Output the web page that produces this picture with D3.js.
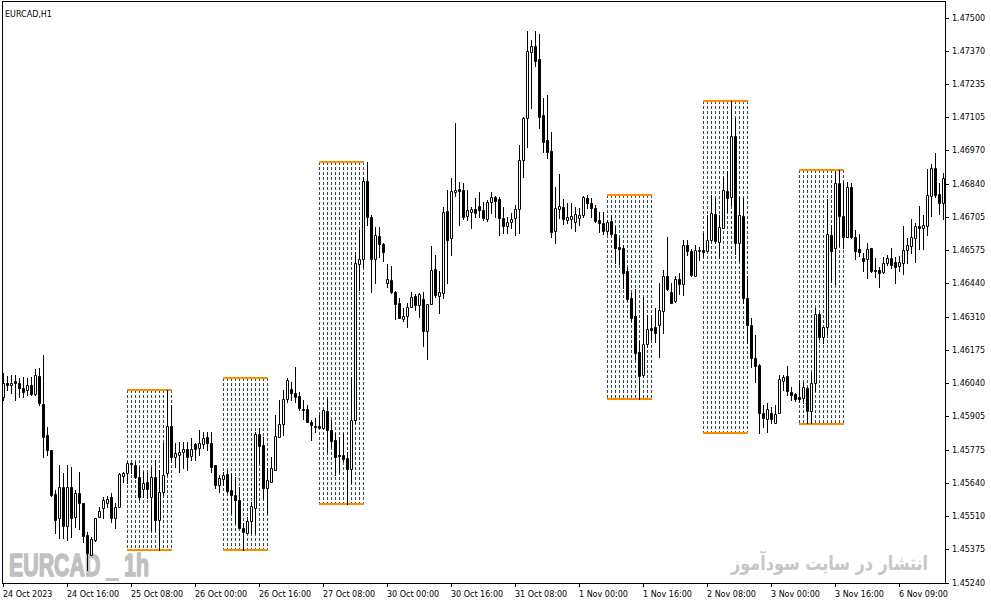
<!DOCTYPE html>
<html>
<head>
<meta charset="utf-8">
<script src="https://cdn.jsdelivr.net/npm/d3@7"></script>
<style>
html,body{margin:0;padding:0;background:#fff;}
svg{display:block;}
</style>
</head>
<body>
<script>
// ---------------- DATA ----------------
const symbolTitle = "EURCAD,H1";
const watermarkText = "EURCAD _ 1h";
const siteText = "انتشار در سایت سودآموز";

const yTickLabels = ["1.47500","1.47370","1.47235","1.47105","1.46970","1.46840","1.46705","1.46575","1.46440",
  "1.46310","1.46175","1.46040","1.45905","1.45775","1.45640","1.45510","1.45375","1.45240"];

const timeTickBars = [0,16,32,48,64,80,96,112,128,144,160,176,192,208,224];
const timeTickLabels = ["24 Oct 2023","24 Oct 16:00","25 Oct 08:00","26 Oct 00:00","26 Oct 16:00","27 Oct 08:00",
  "30 Oct 00:00","30 Oct 16:00","31 Oct 08:00","1 Nov 00:00","1 Nov 16:00","2 Nov 08:00","3 Nov 00:00","3 Nov 16:00","6 Nov 09:00"];

const opens = [1.45983,1.46039,1.46029,1.46047,1.46039,1.46019,1.46010,1.46030,1.45993,1.46066,
1.45954,1.45830,1.45770,1.45593,1.45497,1.45623,1.45467,1.45623,1.45503,1.45597,
1.45557,1.45430,1.45350,1.45410,1.45503,1.45539,1.45557,1.45583,1.45497,1.45543,
1.45666,1.45677,1.45719,1.45710,1.45663,1.45615,1.45643,1.45583,1.45663,1.45490,
1.45603,1.45679,1.45866,1.45743,1.45750,1.45763,1.45774,1.45747,1.45794,1.45778,
1.45794,1.45822,1.45799,1.45710,1.45630,1.45654,1.45674,1.45610,1.45590,1.45570,
1.45459,1.45439,1.45486,1.45539,1.45834,1.45790,1.45618,1.45643,1.45690,1.45823,
1.45874,1.45974,1.46014,1.45998,1.45986,1.45934,1.45934,1.45883,1.45866,1.45866,
1.45859,1.45926,1.45850,1.45810,1.45750,1.45750,1.45738,1.45693,1.45890,1.46514,
1.46534,1.46846,1.46703,1.46534,1.46626,1.46593,1.46439,1.46450,1.46403,1.46357,
1.46294,1.46307,1.46341,1.46386,1.46350,1.46373,1.46247,1.46353,1.46494,1.46387,
1.46397,1.46726,1.46617,1.46804,1.46813,1.46810,1.46706,1.46723,1.46734,1.46746,
1.46730,1.46693,1.46763,1.46781,1.46773,1.46699,1.46666,1.46683,1.46697,1.46733,
1.46930,1.47097,1.47361,1.47386,1.47333,1.47110,1.47010,1.46966,1.46647,1.46734,
1.46741,1.46690,1.46694,1.46683,1.46699,1.46710,1.46779,1.46757,1.46739,1.46690,
1.46677,1.46647,1.46686,1.46634,1.46583,1.46579,1.46486,1.46377,1.46306,1.46163,
1.46070,1.46193,1.46259,1.46263,1.46270,1.46327,1.46466,1.46403,1.46367,1.46454,
1.46434,1.46590,1.46566,1.46467,1.46566,1.46570,1.46567,1.46610,1.46714,1.46603,
1.46659,1.46806,1.46781,1.47026,1.46597,1.46706,1.46377,1.46270,1.46137,1.46110,
1.45919,1.45893,1.45919,1.45879,1.45917,1.46047,1.46066,1.46003,1.45993,1.45983,
1.45977,1.46017,1.45927,1.46037,1.46314,1.46221,1.46263,1.46630,1.46577,1.46837,
1.46706,1.46623,1.46821,1.46621,1.46573,1.46539,1.46533,1.46577,1.46490,1.46490,
1.46481,1.46517,1.46537,1.46521,1.46507,1.46519,1.46570,1.46586,1.46617,1.46666,
1.46657,1.46666,1.46786,1.46897,1.46794,1.46759];

const highs = [1.46077,1.46066,1.46070,1.46070,1.46057,1.46061,1.46057,1.46063,1.46093,1.46097,
1.46150,1.45861,1.45770,1.45610,1.45710,1.45677,1.45710,1.45703,1.45610,1.45683,
1.45557,1.45443,1.45423,1.45497,1.45543,1.45583,1.45586,1.45597,1.45557,1.45679,
1.45683,1.45723,1.45719,1.45723,1.45703,1.45683,1.45677,1.45703,1.45730,1.45690,
1.45798,1.46010,1.45950,1.45798,1.45803,1.45803,1.45803,1.45818,1.45798,1.45850,
1.45843,1.45843,1.45843,1.45710,1.45670,1.45683,1.45690,1.45678,1.45663,1.45623,
1.45478,1.45503,1.45563,1.45843,1.45858,1.45823,1.45698,1.45743,1.45910,1.45970,
1.46010,1.46058,1.46043,1.46103,1.46003,1.45970,1.45950,1.45890,1.45898,1.45910,
1.45930,1.45983,1.45890,1.45838,1.45823,1.45839,1.45763,1.46063,1.46563,1.46650,
1.46863,1.46923,1.46710,1.46663,1.46663,1.46598,1.46514,1.46506,1.46407,1.46377,
1.46337,1.46357,1.46401,1.46393,1.46397,1.46403,1.46353,1.46586,1.46550,1.46487,
1.46743,1.46810,1.46857,1.47077,1.46843,1.46837,1.46810,1.46741,1.46777,1.46801,
1.46763,1.46770,1.46803,1.46786,1.46783,1.46743,1.46703,1.46717,1.46750,1.46990,
1.47103,1.47447,1.47410,1.47447,1.47434,1.47177,1.47190,1.47043,1.46823,1.46874,
1.46773,1.46759,1.46757,1.46743,1.46737,1.46786,1.46790,1.46777,1.46750,1.46723,
1.46723,1.46690,1.46710,1.46666,1.46617,1.46590,1.46503,1.46397,1.46413,1.46207,
1.46381,1.46310,1.46310,1.46337,1.46437,1.46490,1.46623,1.46437,1.46466,1.46479,
1.46610,1.46610,1.46573,1.46590,1.46583,1.46637,1.46710,1.46790,1.46777,1.46710,
1.46861,1.46886,1.47167,1.47097,1.46783,1.46777,1.46466,1.46297,1.46230,1.46114,
1.45950,1.45957,1.45943,1.45950,1.46070,1.46070,1.46106,1.46023,1.45997,1.46050,
1.46043,1.46021,1.46077,1.46337,1.46319,1.46263,1.46773,1.46670,1.46887,1.46890,
1.46843,1.46843,1.46839,1.46650,1.46634,1.46557,1.46597,1.46577,1.46537,1.46503,
1.46543,1.46550,1.46577,1.46543,1.46546,1.46666,1.46617,1.46693,1.46679,1.46746,
1.46710,1.46893,1.46914,1.46959,1.46839,1.46877];

const lows = [1.45970,1.46010,1.45997,1.45970,1.45981,1.45983,1.45990,1.45990,1.45990,1.45950,
1.45743,1.45750,1.45586,1.45439,1.45417,1.45417,1.45410,1.45423,1.45463,1.45453,
1.45403,1.45290,1.45350,1.45406,1.45503,1.45497,1.45543,1.45483,1.45457,1.45543,
1.45643,1.45637,1.45677,1.45657,1.45570,1.45583,1.45577,1.45450,1.45450,1.45370,
1.45590,1.45670,1.45730,1.45702,1.45683,1.45698,1.45690,1.45730,1.45730,1.45750,
1.45778,1.45770,1.45683,1.45618,1.45603,1.45630,1.45603,1.45518,1.45478,1.45458,
1.45370,1.45438,1.45438,1.45438,1.45718,1.45578,1.45518,1.45643,1.45690,1.45823,
1.45830,1.45963,1.45970,1.45963,1.45930,1.45894,1.45883,1.45810,1.45843,1.45858,
1.45858,1.45763,1.45783,1.45670,1.45683,1.45727,1.45554,1.45638,1.45878,1.46410,
1.46503,1.46670,1.46403,1.46439,1.46543,1.46527,1.46421,1.46399,1.46293,1.46297,
1.46287,1.46261,1.46341,1.46330,1.46301,1.46186,1.46133,1.46353,1.46381,1.46317,
1.46379,1.46439,1.46550,1.46786,1.46670,1.46693,1.46690,1.46657,1.46703,1.46703,
1.46690,1.46687,1.46717,1.46703,1.46630,1.46637,1.46637,1.46657,1.46630,1.46637,
1.46863,1.46983,1.47137,1.47306,1.47057,1.46963,1.46937,1.46623,1.46599,1.46697,
1.46674,1.46677,1.46657,1.46647,1.46670,1.46703,1.46737,1.46703,1.46683,1.46643,
1.46634,1.46634,1.46630,1.46517,1.46514,1.46417,1.46367,1.46287,1.46133,1.45974,
1.46066,1.46181,1.46213,1.46203,1.46141,1.46239,1.46410,1.46357,1.46363,1.46394,
1.46390,1.46550,1.46466,1.46467,1.46530,1.46543,1.46567,1.46607,1.46603,1.46537,
1.46659,1.46723,1.46750,1.46554,1.46527,1.46359,1.46197,1.46103,1.46043,1.45837,
1.45861,1.45843,1.45877,1.45879,1.45917,1.46010,1.45990,1.45970,1.45967,1.45963,
1.45959,1.45877,1.45877,1.46007,1.46213,1.46199,1.46234,1.46443,1.46434,1.46586,
1.46577,1.46621,1.46617,1.46533,1.46546,1.46487,1.46457,1.46483,1.46461,1.46423,
1.46479,1.46510,1.46497,1.46437,1.46487,1.46474,1.46519,1.46559,1.46523,1.46573,
1.46573,1.46630,1.46706,1.46783,1.46714,1.46693];

const closes = [1.46039,1.46031,1.46039,1.46039,1.46017,1.46003,1.46030,1.45993,1.46070,1.45957,
1.45823,1.45770,1.45590,1.45490,1.45623,1.45467,1.45623,1.45497,1.45597,1.45557,
1.45426,1.45357,1.45413,1.45497,1.45526,1.45570,1.45573,1.45497,1.45543,1.45674,
1.45677,1.45719,1.45714,1.45663,1.45583,1.45639,1.45613,1.45663,1.45490,1.45603,
1.45670,1.45866,1.45743,1.45758,1.45763,1.45774,1.45743,1.45774,1.45774,1.45798,
1.45818,1.45799,1.45703,1.45630,1.45658,1.45670,1.45607,1.45590,1.45570,1.45458,
1.45443,1.45486,1.45546,1.45834,1.45786,1.45618,1.45650,1.45698,1.45826,1.45874,
1.45974,1.46050,1.45999,1.45982,1.45938,1.45930,1.45883,1.45870,1.45861,1.45859,
1.45930,1.45850,1.45807,1.45743,1.45746,1.45734,1.45693,1.45890,1.46518,1.46534,
1.46846,1.46703,1.46534,1.46630,1.46593,1.46563,1.46454,1.46403,1.46354,1.46297,
1.46306,1.46341,1.46383,1.46350,1.46394,1.46247,1.46353,1.46490,1.46390,1.46401,
1.46721,1.46610,1.46806,1.46808,1.46807,1.46703,1.46730,1.46734,1.46719,1.46730,
1.46697,1.46763,1.46781,1.46767,1.46699,1.46666,1.46681,1.46693,1.46733,1.46930,
1.47097,1.47367,1.47386,1.47326,1.47103,1.47003,1.46963,1.46643,1.46737,1.46746,
1.46694,1.46701,1.46706,1.46714,1.46710,1.46781,1.46757,1.46739,1.46687,1.46677,
1.46647,1.46683,1.46633,1.46579,1.46574,1.46479,1.46374,1.46299,1.46159,1.46067,
1.46193,1.46254,1.46250,1.46237,1.46330,1.46466,1.46413,1.46359,1.46454,1.46434,
1.46590,1.46566,1.46470,1.46570,1.46570,1.46563,1.46610,1.46717,1.46607,1.46663,
1.46810,1.46777,1.47026,1.46599,1.46710,1.46377,1.46270,1.46137,1.46107,1.45919,
1.45899,1.45933,1.45893,1.45914,1.46053,1.46061,1.46007,1.45990,1.45973,1.45973,
1.46021,1.45927,1.46039,1.46314,1.46223,1.46261,1.46633,1.46567,1.46837,1.46706,
1.46623,1.46821,1.46623,1.46566,1.46563,1.46527,1.46574,1.46487,1.46486,1.46477,
1.46517,1.46537,1.46510,1.46503,1.46521,1.46570,1.46590,1.46621,1.46666,1.46657,
1.46670,1.46790,1.46897,1.46790,1.46759,1.46857];

// session range boxes (bar index from, bar index to, top price, bottom price)
const boxStart = [31, 55, 79, 151, 175, 199];
const boxEnd   = [42, 66, 90, 162, 186, 210];
const boxTop   = [1.46010, 1.46057, 1.46923, 1.46790, 1.47167, 1.46890];
const boxBottom= [1.45370, 1.45370, 1.45554, 1.45975, 1.45839, 1.45874];

// ---------------- DRAW ----------------
const W = 991, H = 605;
const svg = d3.select("body").append("svg").attr("width", W).attr("height", H);

const n = opens.length;
const x = d3.scaleBand().domain(d3.range(n)).range([1.5, 945.5]).paddingInner(0).paddingOuter(0);
const y = d3.scaleLinear().domain([+yTickLabels[yTickLabels.length-1], +yTickLabels[0]]).range([582.5, 17.5]);
const xc = i => x(i) + x.bandwidth()/2;
const ry = v => Math.round(y(v));

// fit a text horizontally into [x0, x0+width] by scaling its glyphs
function fitText(sel, x0, baseline, width) {
  const len = sel.node().getComputedTextLength();
  const k = width / len;
  sel.attr("x", 0).attr("y", 0)
     .attr("transform", `translate(${x0},${baseline}) scale(${k},1)`);
}

// watermark texts (behind everything)
const wm = svg.append("text")
  .attr("font-family", "Liberation Sans, Arial, sans-serif")
  .attr("font-weight", "bold").attr("font-size", 31)
  .attr("fill", "#c0c0c0")
  .attr("stroke", "#c0c0c0").attr("stroke-width", 1.6).attr("stroke-linejoin", "round")
  .text(watermarkText);
fitText(wm, 9, 575.5, 140);

const site = svg.append("text")
  .attr("font-family", "DejaVu Sans, sans-serif")
  .attr("font-weight", "bold")
  .attr("font-size", 20)
  .attr("fill", "#c6c6c6")
  .attr("direction", "rtl")
  .attr("text-anchor", "start")
  .text(siteText);
{
  const len = site.node().getComputedTextLength();
  const k = 197 / len;
  site.attr("x", 0).attr("y", 0).attr("transform", `translate(928,570) scale(${k},1)`);
}

// title
svg.append("text")
  .attr("x", 5).attr("y", 17)
  .attr("font-family", "DejaVu Sans, Tahoma, sans-serif")
  .attr("font-size", 8)
  .attr("fill", "#000")
  .text(symbolTitle);

// boxes
const gBox = svg.append("g");
boxStart.forEach((s, b) => {
  const e = boxEnd[b];
  const t = ry(boxTop[b]), bt = ry(boxBottom[b]);
  d3.range(s, e + 1).forEach(i => {
    gBox.append("line")
      .attr("x1", xc(i)).attr("x2", xc(i))
      .attr("y1", t).attr("y2", bt)
      .attr("stroke", "#2f4f4f").attr("stroke-width", 1)
      .attr("stroke-dasharray", "3,2");
  });
  [t, bt].forEach(yy => {
    gBox.append("line")
      .attr("x1", xc(s) - 0.5).attr("x2", xc(e) + 0.5)
      .attr("y1", yy).attr("y2", yy)
      .attr("stroke", "#ff8c00").attr("stroke-width", 2);
  });
});

// candles
const gC = svg.append("g");
d3.range(n).forEach(i => {
  const o = opens[i], h = highs[i], l = lows[i], c = closes[i];
  const cx = xc(i);
  gC.append("line")
    .attr("x1", cx).attr("x2", cx)
    .attr("y1", ry(h)).attr("y2", ry(l) + 1)
    .attr("stroke", "#000").attr("stroke-width", 1);
  const top = ry(Math.max(o, c)), bot = ry(Math.min(o, c));
  gC.append("path")
    .attr("d", `M${cx-1},${top+0.5}H${cx+1}V${bot+0.5}H${cx-1}Z`)
    .attr("fill", c > o ? "#fff" : "#000")
    .attr("stroke", "#000").attr("stroke-width", 1);
});

// frame
const frame = svg.append("g").attr("stroke", "#000").attr("stroke-width", 1);
frame.append("line").attr("x1", 2.5).attr("x2", 2.5).attr("y1", 1).attr("y2", 584);
frame.append("line").attr("x1", 2).attr("x2", 946).attr("y1", 1.5).attr("y2", 1.5);
frame.append("line").attr("x1", 945.5).attr("x2", 945.5).attr("y1", 1).attr("y2", 584);
frame.append("line").attr("x1", 2).attr("x2", 946).attr("y1", 583.5).attr("y2", 583.5);

// y axis (right)
const yTop = +yTickLabels[0], yBot = +yTickLabels[yTickLabels.length-1];
const yTickVals = yTickLabels.map((_, k) => yTop - k * (yTop - yBot) / (yTickLabels.length - 1));
const yAx = d3.axisRight(y.copy().interpolate(d3.interpolateRound))
  .tickValues(yTickVals)
  .tickFormat((d, k) => yTickLabels[k])
  .tickSize(4).tickSizeOuter(0).tickPadding(3).offset(0.5);
const gy = svg.append("g").attr("transform", "translate(945,0)").call(yAx);
gy.select(".domain").remove();
gy.selectAll("text").attr("font-family", "DejaVu Sans, Tahoma, sans-serif").attr("font-size", 8).attr("fill", "#000");
gy.selectAll("line").attr("stroke", "#000");

// x axis (bottom)
const xAx = d3.axisBottom(x)
  .tickValues(timeTickBars)
  .tickFormat((d, k) => timeTickLabels[k])
  .tickSize(4).tickSizeOuter(0).tickPadding(4).offset(0);
const gx = svg.append("g").attr("transform", "translate(0,583)").call(xAx);
gx.select(".domain").remove();
gx.selectAll("text").attr("text-anchor", "start").attr("x", -0.5)
  .attr("font-family", "DejaVu Sans, Tahoma, sans-serif").attr("font-size", 8).attr("fill", "#000");
gx.selectAll("line").attr("stroke", "#000");
</script>
</body>
</html>
